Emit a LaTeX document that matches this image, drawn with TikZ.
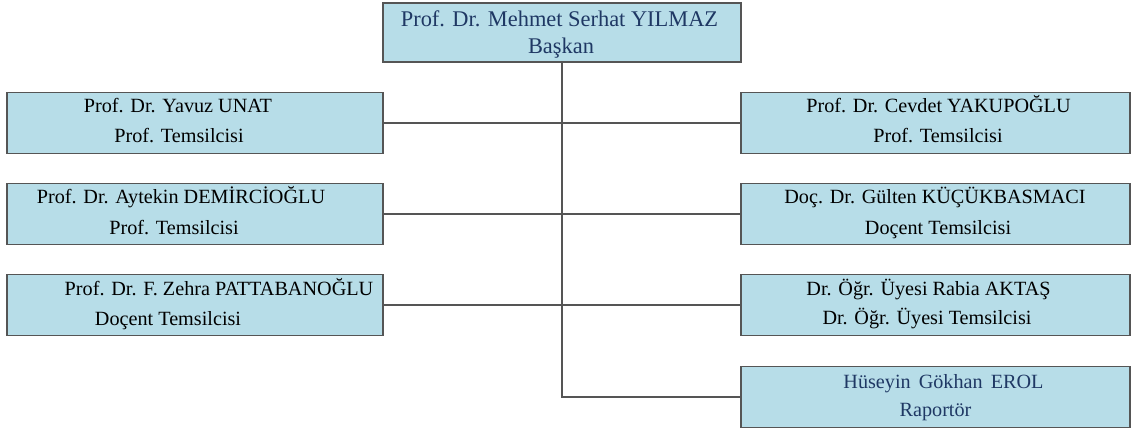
\documentclass[tikz,border=0pt]{standalone}
\usepackage{fontspec}
\setmainfont{Liberation Serif}
\usetikzlibrary{positioning}
\definecolor{kutumavi}{RGB}{183,221,232}
\definecolor{cizgigri}{RGB}{85,85,85}
\definecolor{lacivert}{RGB}{31,56,100}

\begin{document}
\begin{tikzpicture}[x=1pt,y=-1pt,
  kutu/.style={draw=cizgigri, line width=1.5pt, fill=kutumavi, minimum height=61pt, inner sep=0pt},
  sol/.style={kutu, minimum width=376pt},
  sag/.style={kutu, minimum width=389pt},
  satir/.style={font=\fontsize{20.2}{24}\selectfont, anchor=base, inner sep=0pt},
  baslik/.style={satir, font=\fontsize{22.4}{26}\selectfont, text=lacivert},
  bag/.style={draw=cizgigri, line width=1.5pt}]
  \useasboundingbox (0,0) rectangle (1131,430);

  % kutular
  \node[kutu, minimum width=358pt, minimum height=59pt] (baskan) at (562,32.5) {};
  \node[sol] (yavuz) at (195,123) {};
  \node[sol] (aytekin) at (195,214) {};
  \node[sol] (zehra) at (195,305) {};
  \node[sag] (cevdet) at (935.5,123) {};
  \node[sag] (gulten) at (935.5,214) {};
  \node[sag] (rabia) at (935.5,305) {};
  \node[sag] (huseyin) at (935.5,397) {};

  % baglantilar
  \draw[bag] (baskan.south) -- (baskan.south |- huseyin.west) -- (huseyin.west);
  \draw[bag] (yavuz.east) -- (cevdet.west);
  \draw[bag] (aytekin.east) -- (gulten.west);
  \draw[bag] (zehra.east) -- (rabia.west);

  % yazilar
  \node[baslik] (baskan-ad) at ([xshift=-2.5pt,yshift=6pt]baskan.center) {Prof. Dr. Mehmet Serhat YILMAZ};
  \node[baslik] (baskan-gorev) at ([xshift=-1pt,yshift=-21pt]baskan.center) {Başkan};

  \node[satir] (yavuz-ad) at ([xshift=-17pt,yshift=10pt]yavuz.center) {Prof. Dr. Yavuz UNAT};
  \node[satir] (yavuz-gorev) at ([xshift=-16pt,yshift=-20pt]yavuz.center) {Prof. Temsilcisi};
  \node[satir] (aytekin-ad) at ([xshift=-14pt,yshift=10pt]aytekin.center) {Prof. Dr. Aytekin DEMİRCİOĞLU};
  \node[satir] (aytekin-gorev) at ([xshift=-21pt,yshift=-20pt]aytekin.center) {Prof. Temsilcisi};
  \node[satir] (zehra-ad) at ([xshift=24pt,yshift=10pt]zehra.center) {Prof. Dr. F. Zehra PATTABANOĞLU};
  \node[satir] (zehra-gorev) at ([xshift=-27pt,yshift=-20pt]zehra.center) {Doçent Temsilcisi};

  \node[satir] (cevdet-ad) at ([xshift=3pt,yshift=10pt]cevdet.center) {Prof. Dr. Cevdet YAKUPOĞLU};
  \node[satir] (cevdet-gorev) at ([xshift=2.5pt,yshift=-20pt]cevdet.center) {Prof. Temsilcisi};
  \node[satir] (gulten-ad) at ([xshift=-0.5pt,yshift=10pt]gulten.center) {Doç. Dr. Gülten KÜÇÜKBASMACI};
  \node[satir] (gulten-gorev) at ([xshift=2.5pt,yshift=-20pt]gulten.center) {Doçent Temsilcisi};
  \node[satir] (rabia-ad) at ([xshift=-7pt,yshift=10pt]rabia.center) {Dr. Öğr. Üyesi Rabia AKTAŞ};
  \node[satir] (rabia-gorev) at ([xshift=-8.5pt,yshift=-19pt]rabia.center) {Dr. Öğr. Üyesi Temsilcisi};
  \node[satir, text=lacivert] (huseyin-ad) at ([xshift=8pt,yshift=9pt]huseyin.center) {Hüseyin\hspace{0.4em}Gökhan\hspace{0.4em}EROL};
  \node[satir, text=lacivert] (huseyin-gorev) at ([yshift=-19pt]huseyin.center) {Raportör};
\end{tikzpicture}
\end{document}
